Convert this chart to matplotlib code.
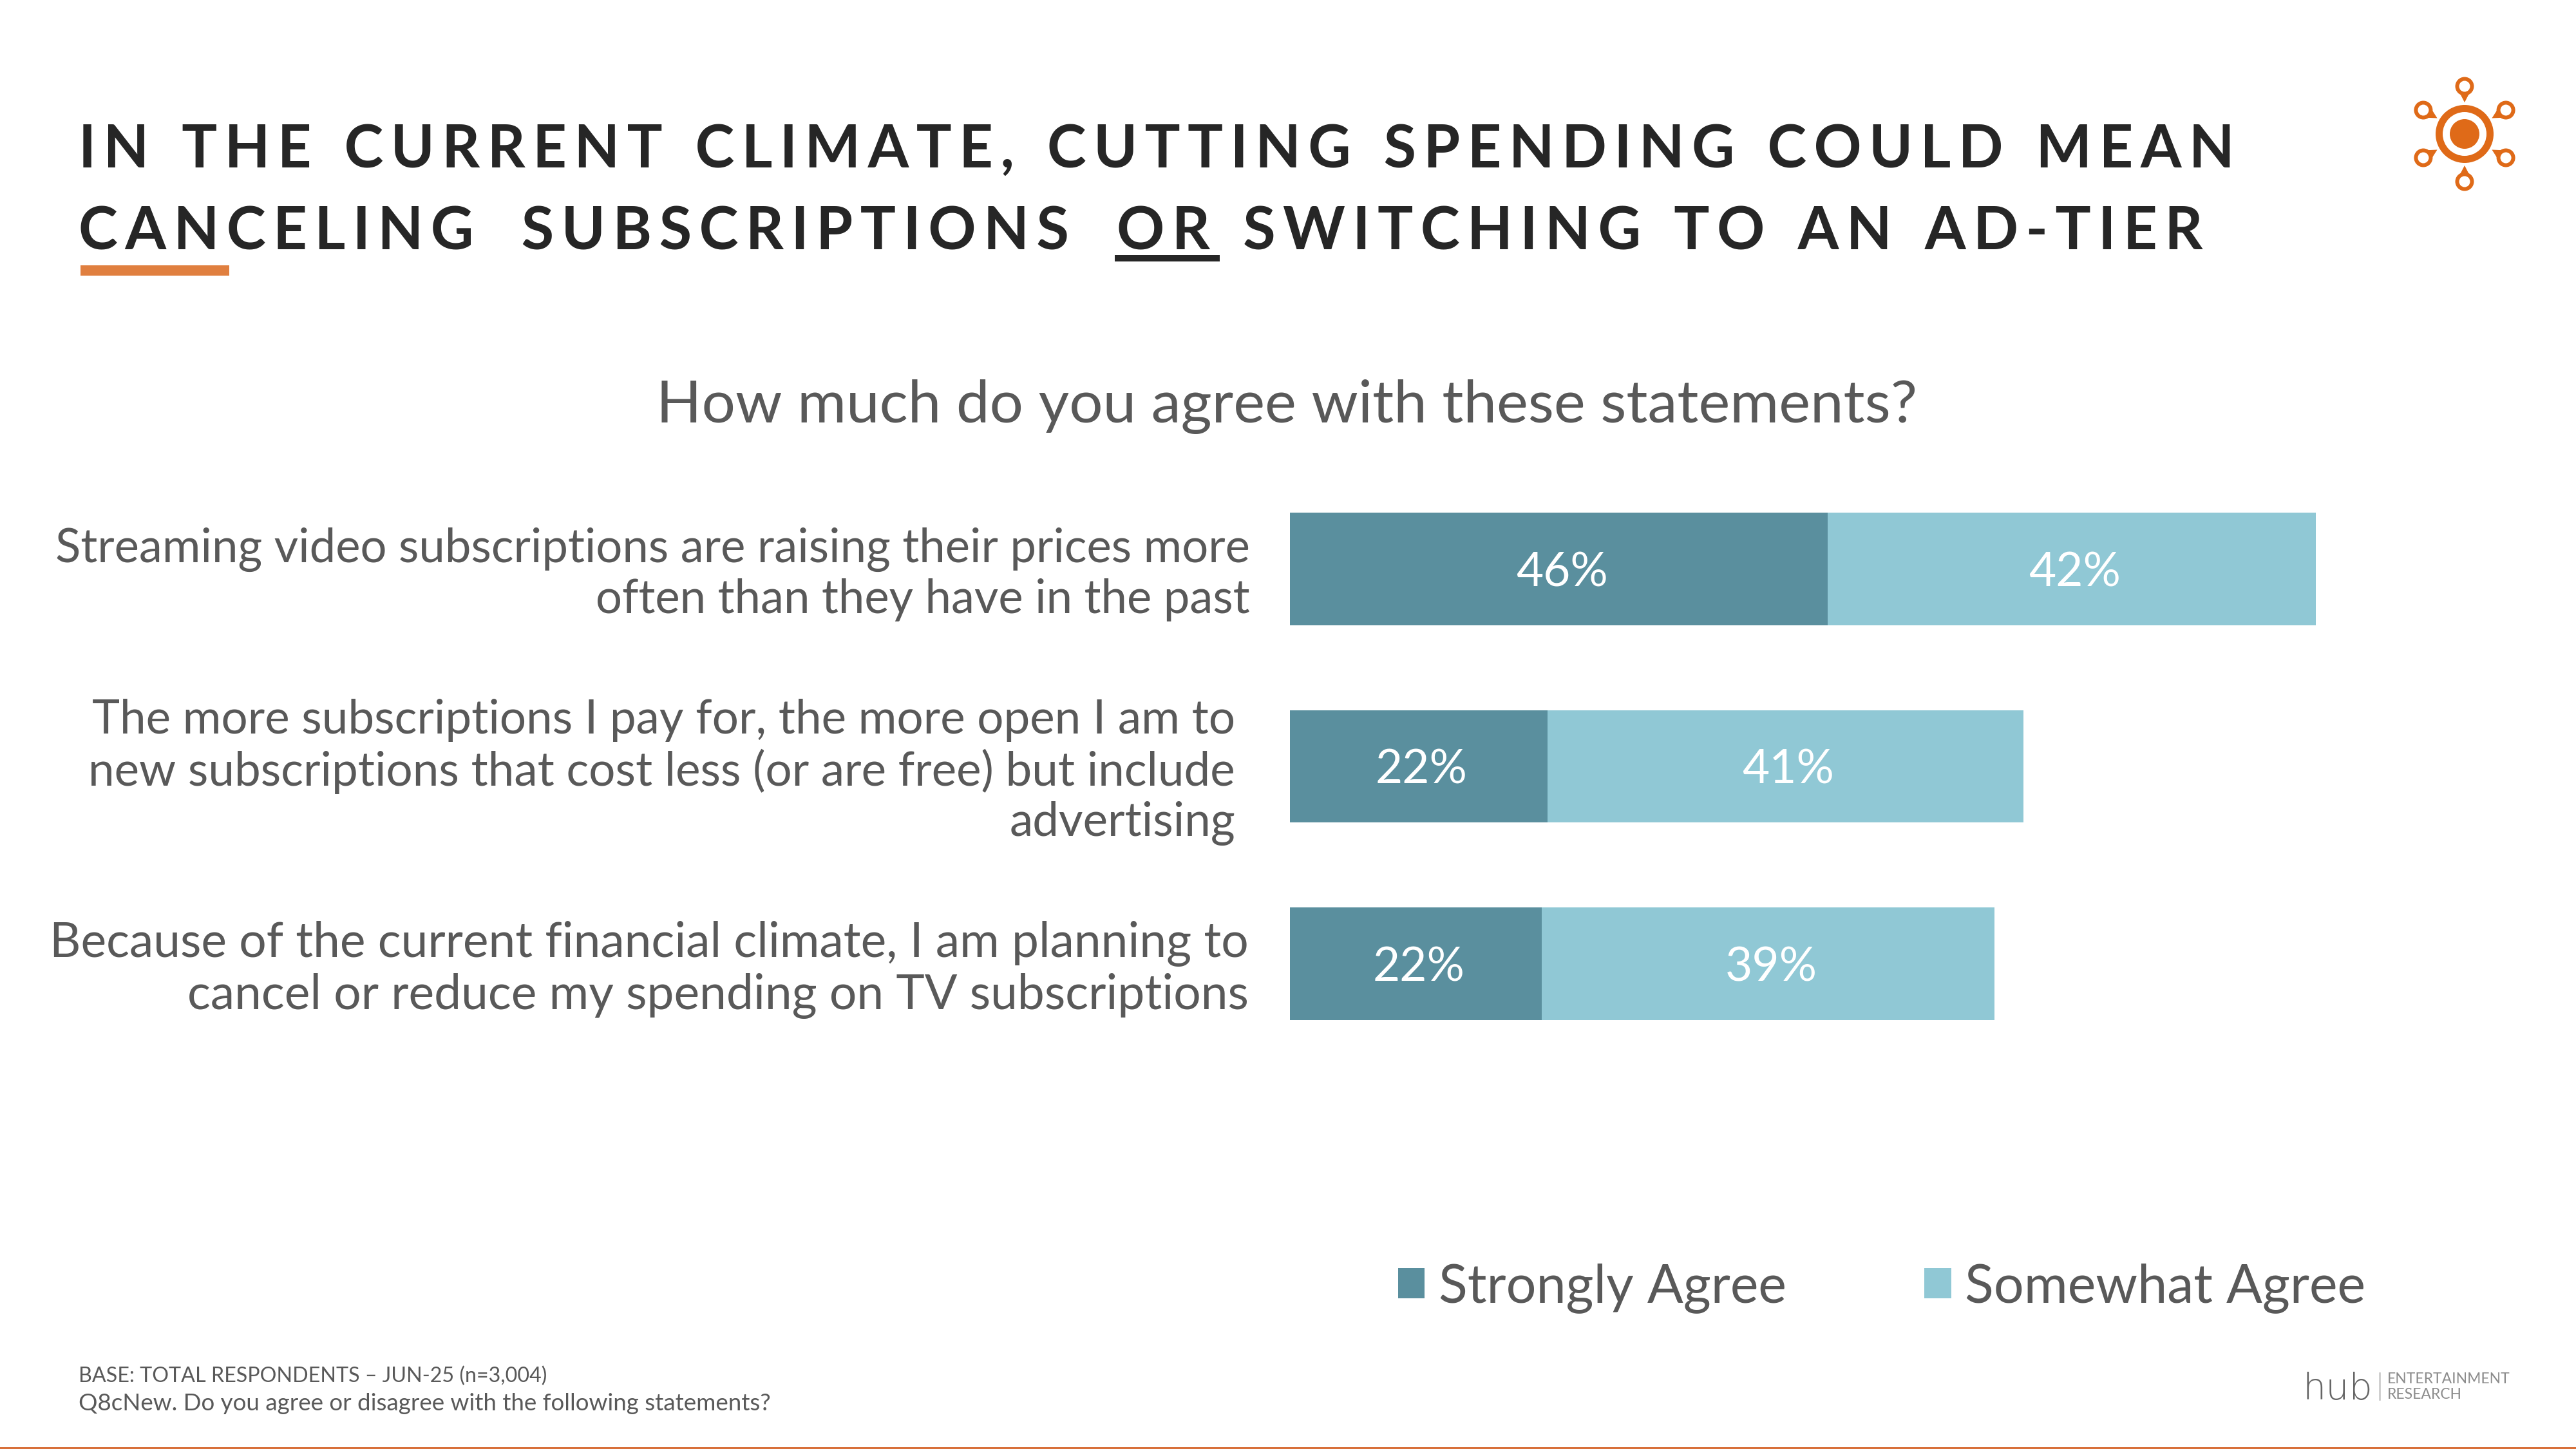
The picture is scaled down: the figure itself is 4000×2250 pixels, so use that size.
import matplotlib
matplotlib.use('Agg')
import matplotlib.pyplot as plt
from matplotlib.patches import Circle, Polygon, Rectangle
import numpy as np

plt.rcParams['font.family'] = ['Lato', 'DejaVu Sans']

# values, labels round them
categories = [
    'Streaming video subscriptions are raising their prices more\noften than they have in the past',
    'The more subscriptions I pay for, the more open I am to\nnew subscriptions that cost less (or are free) but include\nadvertising',
    'Because of the current financial climate, I am planning to\ncancel or reduce my spending on TV subscriptions',
]
strongly_agree = [46.4, 22.2, 21.7]
somewhat_agree = [42.1, 41.1, 39.1]
series_names = ['Strongly Agree', 'Somewhat Agree']
title_lines = ['IN THE CURRENT CLIMATE, CUTTING SPENDING COULD MEAN',
               'CANCELING SUBSCRIPTIONS OR SWITCHING TO AN AD-TIER']
subtitle = 'How much do you agree with these statements?'
footnotes = ['BASE: TOTAL RESPONDENTS \u2013 JUN-25 (n=3,004)',
             'Q8cNew. Do you agree or disagree with the following statements?']

DARK = '#5A8F9E'
LIGHT = '#90C8D5'
ORANGE = '#E07F3F'
LOGO_ORANGE = '#DF6A18'
GREY = '#595959'
W, H = 4000, 2250


def spaced(s, gaps):
    # letterspacing with hair spaces, gaps = extra hair spaces after each word
    hair = '\u200a'
    out = ''
    words = s.split(' ')
    for i, word in enumerate(words):
        out += (hair * 2).join(word)
        if i < len(words) - 1:
            out += hair * 2 + ' ' + hair * (2 + gaps[i])
    return out


fig = plt.figure(figsize=(16, 9), dpi=250, facecolor='white')

# full page layer in pixel coordinates, for the slide furniture
page = fig.add_axes([0, 0, 1, 1])
page.set_xlim(0, W)
page.set_ylim(H, 0)
page.axis('off')

page.text(122, 260, spaced(title_lines[0], [1] * 7), fontsize=26.4, fontweight='bold', color='#262626', va='baseline')
page.text(122, 388, spaced(title_lines[1], [5, 5, 1, 1, 1, 1]), fontsize=26.5, fontweight='bold', color='#262626',
          va='baseline')
page.add_patch(Rectangle((1731, 396), 163, 10, color='#262626', lw=0))
page.add_patch(Rectangle((125, 412), 231, 16, color=ORANGE, lw=0))
page.text(1998, 632, subtitle, fontsize=26.6, color=GREY, ha='center', va='center')

page.text(122, 2137, footnotes[0], fontsize=9.3, color=GREY, va='center')
page.text(122, 2180, footnotes[1], fontsize=10.6, color=GREY, va='center')
page.add_patch(Rectangle((0, 2247), W, 3, color='#D8703A', lw=0))

# sun logo
cx, cy = 3827, 208
page.add_patch(Circle((cx, cy), 45, color=LOGO_ORANGE, lw=0))
page.add_patch(Circle((cx, cy), 34, color='white', lw=0))
page.add_patch(Circle((cx, cy), 23, color=LOGO_ORANGE, lw=0))
for ang in np.deg2rad([90, 30, 150, 210, 270, 330]):
    ux, uy = np.cos(ang), -np.sin(ang)
    hx, hy = cx + 74 * ux, cy + 74 * uy
    tx, ty = cx + 49 * ux, cy + 49 * uy
    page.add_patch(Polygon([(tx, ty), (hx - 13 * uy, hy + 13 * ux), (hx + 13 * uy, hy - 13 * ux)],
                           color=LOGO_ORANGE, lw=0))
    page.add_patch(Circle((hx, hy), 14.5, color=LOGO_ORANGE, lw=0))
    page.add_patch(Circle((hx, hy), 8.5, color='white', lw=0))

# hub logo
page.text(3576, 2173, 'hub', fontsize=16.5, family='DejaVu Sans', fontweight='light', color='#666666', va='baseline')
page.plot([3695, 3695], [2132, 2173], color='#CCCCCC', lw=0.8)
page.text(3707, 2142, 'ENTERTAINMENT', fontsize=6.6, color='#8C8C8C', va='center')
page.text(3707, 2165, 'RESEARCH', fontsize=6.6, color='#8C8C8C', va='center')

# chart axes: 18 px per percent, rows 307 px apart
ax = fig.add_axes([2003 / W, 1 - 1650 / H, 1800 / W, 920 / H])
ax.patch.set_alpha(0)
y = np.arange(len(categories))
bars1 = ax.barh(y, strongly_agree, height=0.57, color=DARK, label=series_names[0])
bars2 = ax.barh(y, somewhat_agree, height=0.57, left=strongly_agree, color=LIGHT, label=series_names[1])
ax.set_xlim(0, 100)
ax.set_ylim(2.5, -0.5)
ax.axis('off')

for bars, lefts in ((bars1, [0, 0, 0]), (bars2, strongly_agree)):
    for bar, left in zip(bars, lefts):
        v = bar.get_width()
        ax.text(left + v / 2 + 0.25, bar.get_y() + bar.get_height() / 2, f'{v:.0f}%',
                color='white', fontsize=21, ha='center', va='center_baseline')

label_right = [1941, 1918, 1939]
label_sizes = [20.9, 21.0, 21.6]
for i, text in enumerate(categories):
    page.text(label_right[i], 892 + 307 * i, text, fontsize=label_sizes[i], color=GREY, ha='right', va='center',
              linespacing=1.19)

fig.legend(handles=[bars1, bars2], labels=series_names, ncol=2, frameon=False, fontsize=23.8,
           labelcolor=GREY, handlelength=0.5, handleheight=0.5, handletextpad=0.26, columnspacing=2.6,
           loc='center', bbox_to_anchor=(2922 / W, 1 - 2000 / H), borderpad=0, borderaxespad=0)

fig.savefig('out.png', dpi=250)
